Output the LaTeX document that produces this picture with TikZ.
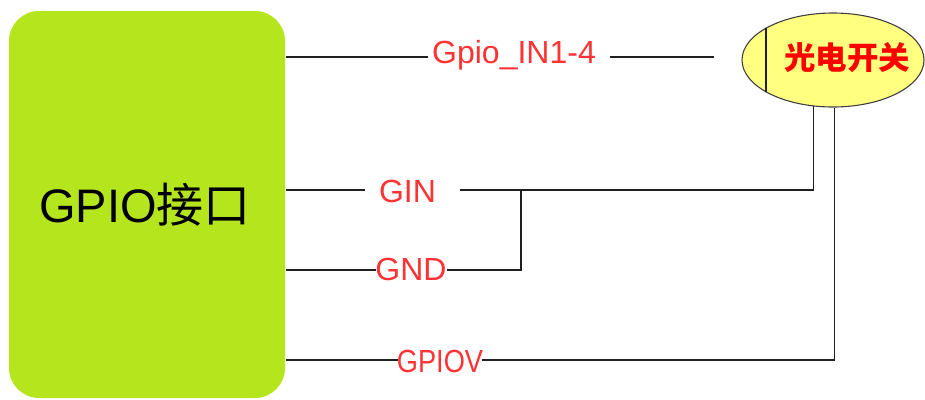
\documentclass[tikz,border=0pt]{standalone}
\usepackage{fontspec}
\setmainfont{Liberation Sans}
\newfontfamily\cjk{Noto Sans CJK SC}
\usetikzlibrary{shapes.geometric}
\definecolor{boxgreen}{RGB}{181,230,29}
\definecolor{lblred}{RGB}{255,51,51}
\definecolor{swyellow}{RGB}{255,255,128}
\definecolor{wire}{RGB}{32,32,32}
\tikzset{
  wireline/.style={draw=wire, line width=1.4pt},
  sig/.style={text=lblred, inner sep=0pt, anchor=base, font=\fontsize{32}{34}\selectfont},
}
\begin{document}
\begin{tikzpicture}[x=1pt,y=-1pt]
\useasboundingbox (0,0) rectangle (925,399);
% GPIO box
\node[fill=boxgreen, rounded corners=30pt, minimum width=276pt, minimum height=387pt, inner sep=0pt] (gpio) at (147,204.5) {};
\node[font=\fontsize{47}{50}\selectfont, inner sep=0pt] (gpiot) at (145,205) {GPIO{\cjk 接口}};
% switch
\node[ellipse, draw=black!75, line width=1.1pt, fill=swyellow, minimum width=182pt, minimum height=94pt, inner sep=0pt] (sw) at (833,60) {};
\coordinate (ch1) at (766,28);
\coordinate (ch2) at (766,92);
\draw[wireline] (ch1) -- (ch2);
\node[text=red, inner sep=0pt, font=\cjk\bfseries\fontsize{31.5}{34}\selectfont] (swt) at (847,58) {光电开关};
% labels
\node[sig] (l1) at (514,63) {Gpio\_IN1-4};
\node[sig] (l2) at (407.5,202) {GIN};
\node[sig] (l3) at (411,280) {GND};
\node[sig] (l4) at (440,372) {\scalebox{0.85}[1]{GPIOV}};
% coordinates
\coordinate (a1) at (286,57);
\coordinate (b1) at (428,57);
\coordinate (c1) at (610,57);
\coordinate (d1) at (714,57);
\coordinate (a2) at (286,190);
\coordinate (b2) at (365,190);
\coordinate (c2) at (460,190);
\coordinate (a3) at (286,270);
\coordinate (b3) at (376,270);
\coordinate (c3) at (447,270);
\coordinate (jn) at (521,190);
\coordinate (a4) at (286,360);
\coordinate (b4) at (398,360);
\coordinate (c4) at (482,360);
% wires
\draw[wireline] (a1) -- (b1);
\draw[wireline] (c1) -- (d1);
\draw[wireline] (a2) -- (b2);
\draw[wireline] (c2) -| (sw.247.6);
\draw[wireline] (a3) -- (b3);
\draw[wireline] (c3) -| (jn);
\draw[wireline] (a4) -- (b4);
\draw[wireline] (c4) -| (sw.272.4);
\end{tikzpicture}
\end{document}
